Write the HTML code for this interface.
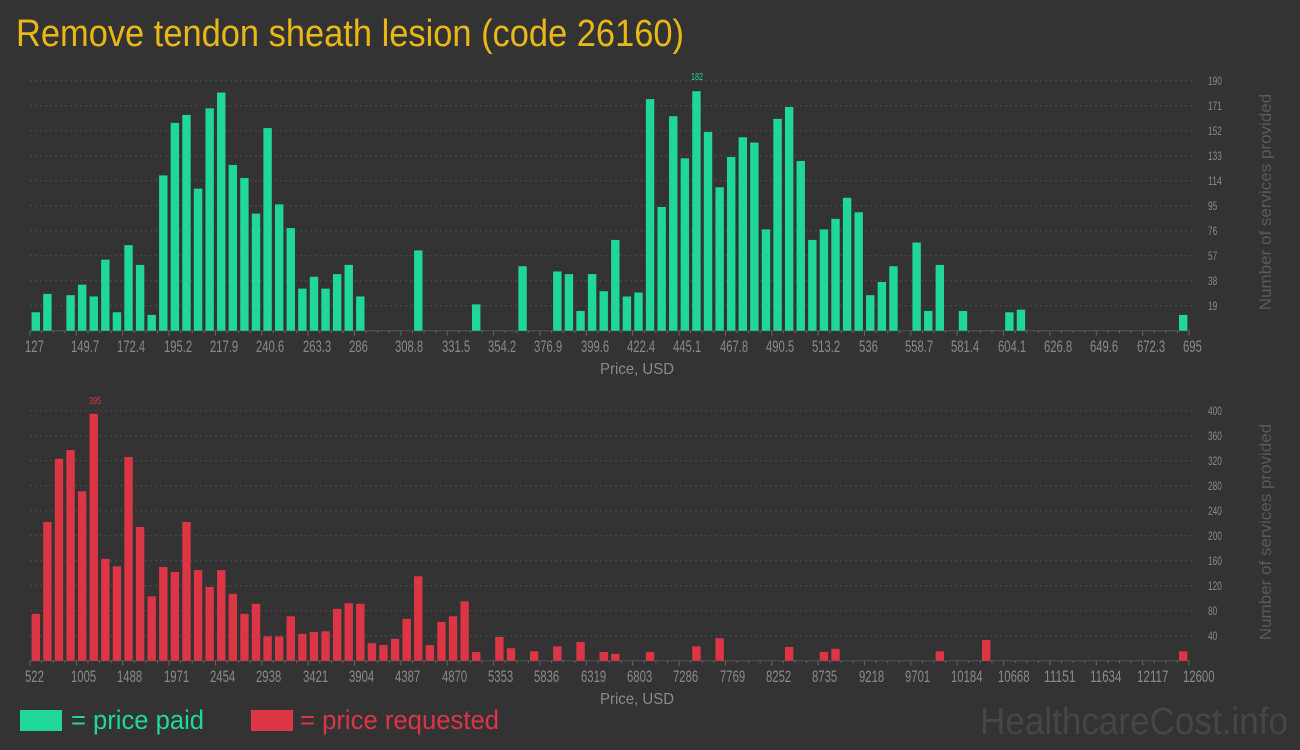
<!DOCTYPE html>
<html><head><meta charset="utf-8"><style>
html,body{margin:0;padding:0;background:#333;}
svg{display:block;font-family:"Liberation Sans",sans-serif;}
</style></head><body>
<svg id="s" width="1300" height="750" xmlns="http://www.w3.org/2000/svg">
<rect width="1300" height="750" fill="#333"/>
<text x="16" y="46" font-size="38" fill="#e9b717" textLength="668" lengthAdjust="spacingAndGlyphs">Remove tendon sheath lesion (code 26160)</text>
<g id="grid"></g>
<g id="bars"></g>
<g id="xt1" font-size="17" fill="#8a8a8a">
<text x="25" y="352">127</text><text x="71" y="352">149.7</text><text x="117" y="352">172.4</text><text x="164" y="352">195.2</text><text x="210" y="352">217.9</text><text x="256" y="352">240.6</text><text x="303" y="352">263.3</text><text x="349" y="352">286</text><text x="395" y="352">308.8</text><text x="442" y="352">331.5</text><text x="488" y="352">354.2</text><text x="534" y="352">376.9</text><text x="581" y="352">399.6</text><text x="627" y="352">422.4</text><text x="673" y="352">445.1</text><text x="720" y="352">467.8</text><text x="766" y="352">490.5</text><text x="812" y="352">513.2</text><text x="859" y="352">536</text><text x="905" y="352">558.7</text><text x="951" y="352">581.4</text><text x="998" y="352">604.1</text><text x="1044" y="352">626.8</text><text x="1090" y="352">649.6</text><text x="1137" y="352">672.3</text><text x="1183" y="352">695</text>
</g>
<g id="xt2" font-size="17" fill="#8a8a8a">
<text x="25" y="682">522</text><text x="71" y="682">1005</text><text x="117" y="682">1488</text><text x="164" y="682">1971</text><text x="210" y="682">2454</text><text x="256" y="682">2938</text><text x="303" y="682">3421</text><text x="349" y="682">3904</text><text x="395" y="682">4387</text><text x="442" y="682">4870</text><text x="488" y="682">5353</text><text x="534" y="682">5836</text><text x="581" y="682">6319</text><text x="627" y="682">6803</text><text x="673" y="682">7286</text><text x="720" y="682">7769</text><text x="766" y="682">8252</text><text x="812" y="682">8735</text><text x="859" y="682">9218</text><text x="905" y="682">9701</text><text x="951" y="682">10184</text><text x="998" y="682">10668</text><text x="1044" y="682">11151</text><text x="1090" y="682">11634</text><text x="1137" y="682">12117</text><text x="1183" y="682">12600</text>
</g>
<g id="yt1" font-size="12" fill="#8a8a8a">
<text x="1208" y="310">19</text><text x="1208" y="285">38</text><text x="1208" y="260">57</text><text x="1208" y="235">76</text><text x="1208" y="210">95</text><text x="1208" y="185">114</text><text x="1208" y="160">133</text><text x="1208" y="135">152</text><text x="1208" y="110">171</text><text x="1208" y="85">190</text>
</g>
<g id="yt2" font-size="12" fill="#8a8a8a">
<text x="1208" y="640">40</text><text x="1208" y="615">80</text><text x="1208" y="590">120</text><text x="1208" y="565">160</text><text x="1208" y="540">200</text><text x="1208" y="515">240</text><text x="1208" y="490">280</text><text x="1208" y="465">320</text><text x="1208" y="440">360</text><text x="1208" y="415">400</text>
</g>
<text x="637" y="374" font-size="16" fill="#8a8a8a" text-anchor="middle" textLength="74" lengthAdjust="spacingAndGlyphs">Price, USD</text>
<text x="637" y="704" font-size="16" fill="#8a8a8a" text-anchor="middle" textLength="74" lengthAdjust="spacingAndGlyphs">Price, USD</text>
<text transform="translate(1271,202) rotate(-90)" font-size="17" fill="#5a5a5a" text-anchor="middle">Number of services provided</text>
<text transform="translate(1271,532) rotate(-90)" font-size="17" fill="#5a5a5a" text-anchor="middle">Number of services provided</text>
<text x="697" y="80" font-size="10" fill="#1fd898" text-anchor="middle" textLength="12" lengthAdjust="spacingAndGlyphs">182</text>
<text x="95" y="404" font-size="10" fill="#dc3545" text-anchor="middle" textLength="12" lengthAdjust="spacingAndGlyphs">395</text>
<rect x="20" y="710" width="42" height="21" fill="#1fd898"/>
<text x="71" y="729" font-size="27" fill="#1fd898" textLength="133" lengthAdjust="spacingAndGlyphs">= price paid</text>
<rect x="251" y="710" width="42" height="21" fill="#dc3545"/>
<text x="300" y="729" font-size="27" fill="#dc3545" textLength="199" lengthAdjust="spacingAndGlyphs">= price requested</text>
<text x="980" y="734" font-size="38" fill="#464646" textLength="308" lengthAdjust="spacingAndGlyphs">HealthcareCost.info</text>
</svg>
<script>
(function(){
var NS="http://www.w3.org/2000/svg";
function el(p,t,a){var e=document.createElementNS(NS,t);for(var k in a)e.setAttribute(k,a[k]);p.appendChild(e);return e;}
var grid=document.getElementById('grid'),bars=document.getElementById('bars');
var x0=30,bw=11.59;
[[330.7],[660.7]].forEach(function(b){
  var base=b[0];
  for(var k=1;k<=10;k++){el(grid,'line',{x1:30,x2:1196,y1:base-k*25,y2:base-k*25,stroke:'#4c4c4c','stroke-width':1,'stroke-dasharray':'2,3'});}
  el(grid,'line',{x1:30,x2:1190,y1:base,y2:base,stroke:'#555','stroke-width':1});
  for(var i=0;i<=100;i++){var x=x0+i*bw;el(grid,'line',{x1:x,x2:x,y1:base,y2:base+(i%4==0?5:2.5),stroke:'#666','stroke-width':1});}
});
var top={0:14,1:28,3:27,4:35,5:26,6:54,7:14,8:65,9:50,10:12,11:118,12:158,13:164,14:108,15:169,16:181,17:126,18:116,19:89,20:154,21:96,22:78,23:32,24:41,25:32,26:43,27:50,28:26,33:61,38:20,42:49,45:45,46:43,47:15,48:43,49:30,50:69,51:26,52:29,53:176,54:94,55:163,56:131,57:182,58:151,59:109,60:132,61:147,62:143,63:77,64:161,65:170,66:129,67:69,68:77,69:85,70:101,71:90,72:27,73:37,74:49,76:67,77:15,78:50,80:15,84:14,85:16,99:12};
var bot={0:75,1:222,2:323,3:337,4:271,5:395,6:163,7:151,8:326,9:214,10:103,11:150,12:142,13:222,14:145,15:118,16:145,17:107,18:75,19:91,20:39,21:39,22:71,23:43,24:46,25:47,26:83,27:92,28:91,29:28,30:25,31:35,32:67,33:135,34:25,35:62,36:71,37:95,38:14,40:38,41:20,43:15,45:23,47:30,49:14,50:11,53:14,57:23,59:36,65:22,68:14,69:19,78:15,82:33,99:15};
function draw(d,base,s,c){for(var i in d){var h=d[i]*s;el(bars,'rect',{x:x0+i*bw+1.6,y:base-h,width:8.4,height:h,fill:c});}}
draw(top,330.7,25/19,'#1fd898');
draw(bot,660.7,25/40,'#dc3545');
['xt1','xt2','yt1','yt2'].forEach(function(id){
  var ts=document.getElementById(id).querySelectorAll('text');
  ts.forEach(function(t){var s=t.textContent,w=0;for(var j=0;j<s.length;j++)w+=(s[j]=='.'?3:(id[0]=='x'?6.3:4.6));t.setAttribute('textLength',w);t.setAttribute('lengthAdjust','spacingAndGlyphs');});
});
})();
</script>
</body></html>
